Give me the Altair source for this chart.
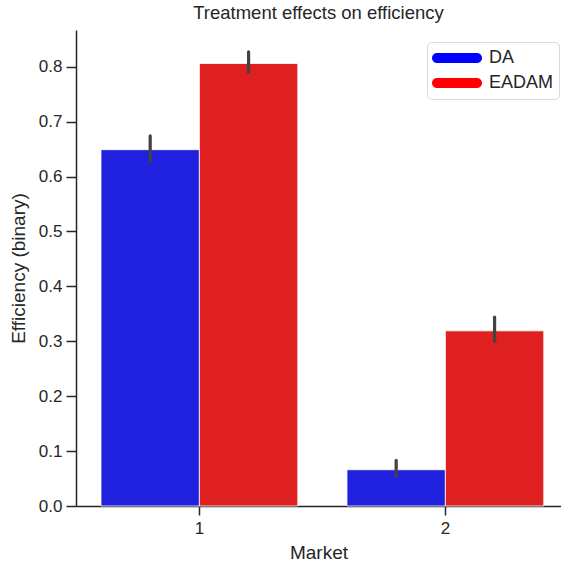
import altair as alt
import pandas as pd

markets = ["1", "1", "2", "2"]
treatments = ["DA", "EADAM", "DA", "EADAM"]
efficiency = [0.649, 0.806, 0.066, 0.319]
ci_low = [0.627, 0.790, 0.054, 0.300]
ci_high = [0.674, 0.827, 0.083, 0.344]

legend_labels = ["DA", "EADAM"]
bar_colors = ["#2020df", "#df2020"]
legend_colors = ["#0000ff", "#ff0000"]
y_ticks = [0.0, 0.1, 0.2, 0.3, 0.4, 0.5, 0.6, 0.7, 0.8]

df = pd.DataFrame({
    "market": markets,
    "treatment": treatments,
    "efficiency": efficiency,
    "ci_low": ci_low,
    "ci_high": ci_high,
})

FONT = "Liberation Sans"
TXT = "#262626"

x = alt.X(
    "market:N",
    title="Market",
    scale=alt.Scale(paddingInner=0.2, paddingOuter=0.0858, align=0.592),
    axis=alt.Axis(labelAngle=0, labelFontSize=17, titleFontSize=19, labelFont=FONT,
                  titleFont=FONT, labelColor=TXT, titleColor=TXT, titleFontWeight="normal",
                  domainColor=TXT, domainWidth=1.5, tickColor=TXT, tickWidth=1.5, tickSize=9,
                  labelPadding=5, titlePadding=7),
)
xo = alt.XOffset("treatment:N", scale=alt.Scale(domain=legend_labels))
y = alt.Y(
    "efficiency:Q",
    title="Efficiency (binary)",
    scale=alt.Scale(domain=[0, 0.867], nice=False),
    axis=alt.Axis(values=y_ticks, format=".1f", labelFontSize=17, titleFontSize=19,
                  labelFont=FONT, titleFont=FONT, labelColor=TXT, titleColor=TXT,
                  titleFontWeight="normal", domainColor=TXT, domainWidth=1.5,
                  tickColor=TXT, tickWidth=1.5, tickSize=10, labelPadding=4, titlePadding=10,
                  grid=False),
)

# bar colour scale is data-driven (no explicit domain) so its legend is not merged
# with the legend layer below
bars = alt.Chart(df).mark_bar(stroke="white", strokeWidth=0.8).encode(
    x=x, xOffset=xo, y=y,
    color=alt.Color("treatment:N", scale=alt.Scale(range=bar_colors), legend=None),
)

err = alt.Chart(df).mark_rule(color="#424242", strokeWidth=3.2, strokeCap="round").encode(
    x=x, xOffset=xo, y="ci_low:Q", y2="ci_high:Q",
)

pill = "M-0.8,-0.2 L0.8,-0.2 A0.2,0.2 0 0 1 0.8,0.2 L-0.8,0.2 A0.2,0.2 0 0 1 -0.8,-0.2 Z"

leg = alt.Chart(df).mark_point(filled=True, opacity=0, size=1).encode(
    x=x, y=y,
    fill=alt.Fill("treatment:N",
                  scale=alt.Scale(domain=legend_labels, range=legend_colors),
                  legend=alt.Legend(title="", orient="none", legendX=351, legendY=12,
                                    symbolType=pill, symbolSize=2500,
                                    symbolStrokeWidth=0, symbolOpacity=1,
                                    labelFontSize=18, labelFont=FONT, labelColor=TXT,
                                    labelOffset=7, padding=5, rowPadding=3, clipHeight=22,
                                    strokeColor="#d9d9d9", fillColor="white",
                                    cornerRadius=4)),
)

chart = alt.layer(bars, err, leg).properties(
    width=485, height=476,
    title=alt.Title("Treatment effects on efficiency", fontSize=18.5, font=FONT, color=TXT,
                    fontWeight="normal", offset=8),
    autosize=alt.AutoSizeParams(type="none"),
    padding={"left": 76, "top": 30, "right": 0, "bottom": 61},
).configure(background="white").configure_view(strokeWidth=0)

chart.save("out.html", embed_options={"renderer": "svg", "actions": False})
